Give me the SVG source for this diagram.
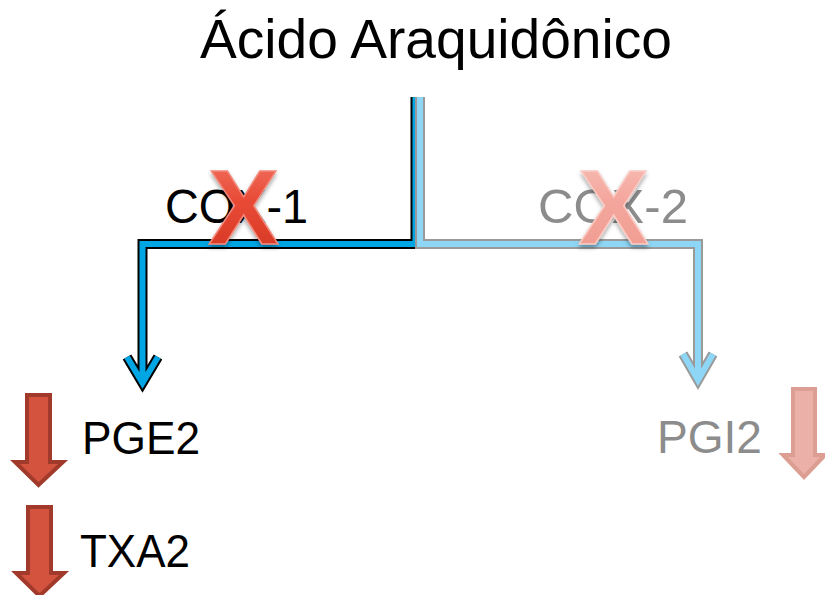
<svg xmlns="http://www.w3.org/2000/svg" width="825" height="595" viewBox="0 0 825 595">
  <defs>
    <linearGradient id="xRed" x1="0" y1="0" x2="0" y2="1">
      <stop offset="0" stop-color="#f47a68"/>
      <stop offset="0.45" stop-color="#e84a36"/>
      <stop offset="1" stop-color="#d23420"/>
    </linearGradient>
    <linearGradient id="xPink" x1="0" y1="0" x2="0" y2="1">
      <stop offset="0" stop-color="#f8c2ba"/>
      <stop offset="0.45" stop-color="#f4a69c"/>
      <stop offset="1" stop-color="#ef9a8e"/>
    </linearGradient>
    <filter id="soft" x="-20%" y="-20%" width="140%" height="150%">
      <feGaussianBlur in="SourceAlpha" stdDeviation="2"/>
      <feOffset dy="3"/>
      <feComponentTransfer><feFuncA type="linear" slope="0.35"/></feComponentTransfer>
      <feMerge><feMergeNode/><feMergeNode in="SourceGraphic"/></feMerge>
    </filter>
  </defs>
  <style>
    .t { font-family: "Liberation Sans", Arial, sans-serif; }
    .dark { fill: #000000; }
    .grey { fill: #8c8c8c; }
    .edge { fill: none; stroke-linejoin: miter; stroke-linecap: butt; }
    .cox1-out { stroke: #000000; stroke-width: 10; }
    .cox1-in { stroke: #00a6e4; stroke-width: 6; }
    .cox2-out { stroke: #9a9a9a; stroke-width: 10; }
    .cox2-in { stroke: #8ed6f5; stroke-width: 6; }
    .down-red { fill: #d3533e; stroke: #a23a2b; stroke-width: 4; }
    .down-pink { fill: #ebb1a8; stroke: #dc9d93; stroke-width: 4; }
    .xmark { font-family: "Liberation Sans", Arial, sans-serif; font-weight: bold; font-size: 106px; text-anchor: middle; }
  </style>

  <!-- source -->
  <g id="acido">
    <text class="t dark" x="200" y="58" font-size="56" textLength="472" lengthAdjust="spacingAndGlyphs">Ácido Araquidônico</text>
  </g>

  <!-- branches -->
  <g id="connectors">
    <g id="cox1-path">
      <path class="edge cox1-out" d="M415.5,97 V244 H142.5 V384 M127,357 L142.5,383 L158,357"/>
      <path class="edge cox1-in" d="M415.5,97 V244 H142.5 V384 M127,357 L142.5,383 L158,357"/>
    </g>
    <g id="cox2-path">
      <path class="edge cox2-out" d="M420,97 V244 H698 V381 M683,354 L698,380 L713,354"/>
      <path class="edge cox2-in" d="M420,97 V244 H698 V381 M683,354 L698,380 L713,354"/>
    </g>
  </g>

  <g id="cox1">
    <text class="t dark" x="165" y="223" font-size="49" textLength="143" lengthAdjust="spacingAndGlyphs">COX-1</text>
    <text class="xmark" x="243.5" y="244" fill="url(#xRed)" stroke="#f28a7c" stroke-width="1.5" filter="url(#soft)">X</text>
  </g>

  <g id="cox2">
    <text class="t grey" x="538" y="223" font-size="49" textLength="150" lengthAdjust="spacingAndGlyphs">COX-2</text>
    <text class="xmark" x="613.5" y="244" fill="url(#xPink)" stroke="#f9cbc4" stroke-width="1.5" filter="url(#soft)">X</text>
  </g>

  <g id="pge2">
    <path class="down-red" d="M27,395 H50 V462 H63 L38.5,485 L15,462 H27 Z"/>
    <text class="t dark" x="82" y="454" font-size="47" textLength="118" lengthAdjust="spacingAndGlyphs">PGE2</text>
  </g>

  <g id="txa2">
    <path class="down-red" d="M28,507 H51 V573 H64 L39.5,596 L16,573 H28 Z"/>
    <text class="t dark" x="80" y="567" font-size="47" textLength="110" lengthAdjust="spacingAndGlyphs">TXA2</text>
  </g>

  <g id="pgi2">
    <text class="t grey" x="657" y="453" font-size="47" textLength="105" lengthAdjust="spacingAndGlyphs">PGI2</text>
    <path class="down-pink" d="M793,389 H815 V455 H825 L804,477 L783,455 H793 Z"/>
  </g>
</svg>
